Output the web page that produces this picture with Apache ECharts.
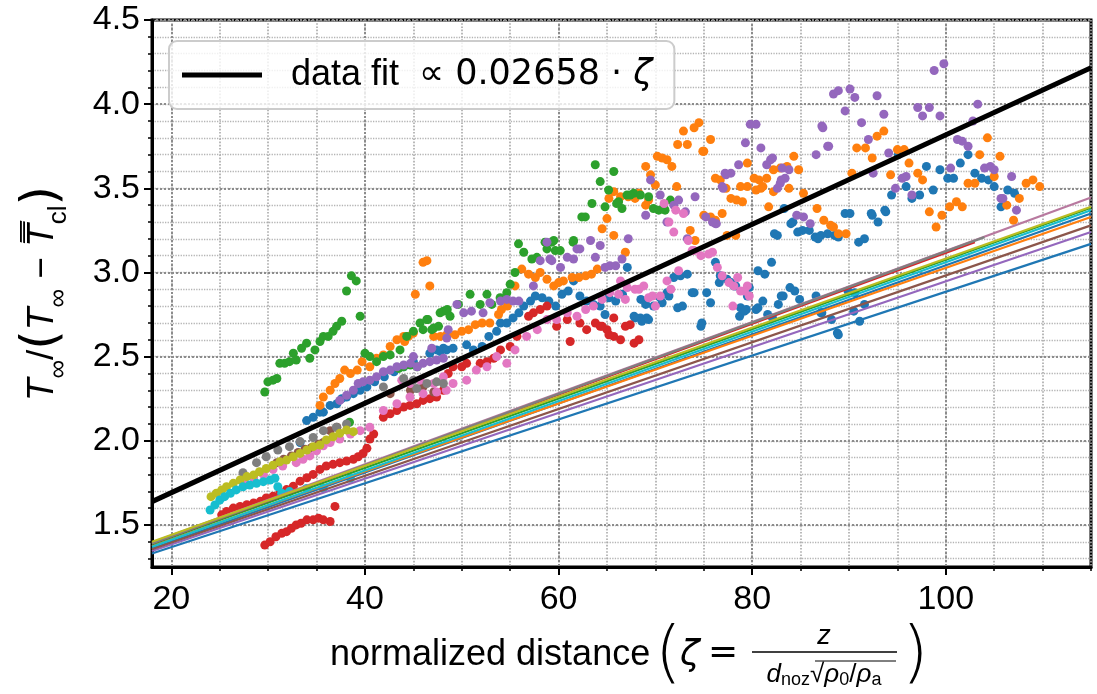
<!DOCTYPE html>
<html><head><meta charset="utf-8">
<script src="https://cdn.jsdelivr.net/npm/echarts@6/dist/echarts.min.js"></script>
<style>html,body{margin:0;padding:0;background:#fff}#c{width:1097px;height:694px}</style>
</head><body><div id="c"></div>
<script>
// ---------- axis ranges & tick labels ----------
const xRange = [18, 115];
const yRange = [1.25, 4.5];
const xTickLabels = [20, 40, 60, 80, 100];
const yTickLabels = [1.5, 2.0, 2.5, 3.0, 3.5, 4.0, 4.5];

// ---------- data fit ----------
const fitSlope = 0.02658;
const fitIntercept = 1.16;

// ---------- per-dataset model lines (value at zeta=18, value at end, end zeta) ----------
const lineColors = ['#1f77b4','#ff7f0e','#2ca02c','#d62728','#9467bd','#8c564b','#b8799f','#7f7f7f','#bcbd22','#17becf','#1f77b4'];
const lineStartVal = [1.360, 1.375, 1.385, 1.390, 1.345, 1.355, 1.395, 1.390, 1.400, 1.370, 1.330];
const lineEndVal   = [3.350, 3.330, 3.385, 3.180, 3.240, 3.280, 3.445, 3.210, 3.390, 3.370, 3.170];
const lineEndZeta  = [115, 115, 115, 103, 115, 115, 115, 104, 115, 115, 115];

// ---------- scatter data ----------
const blue = [[33.3,1.99],[33.97,2.12],[34.65,2.14],[35.35,2.17],[35.7,2.17],[36.4,2.21],[37.1,2.22],[37.6,2.25],[38.1,2.26],[38.8,2.28],[39.5,2.30],[40.2,2.32],[41.0,2.35],[42.0,2.38],[43.0,2.41],[44.0,2.44],[45.0,2.47],[46.7,2.52],[47.4,2.54],[48.1,2.55],
[47.8,2.53],[48.45,2.54],[49.1,2.55],[50.5,2.57],[51.2,2.54],[52.1,2.56],[52.8,2.62],[53.6,2.65],[54.0,2.70],[54.65,2.70],[55.3,2.73],[55.9,2.76],[56.4,2.80],[57.1,2.83],[57.6,2.86],[58.3,2.85],[59.0,2.83],[59.7,2.80],[60.35,2.87],[61.0,2.89],[61.55,2.95],[62.2,2.86],[62.9,2.83],[63.6,2.81],[64.3,2.80],[64.8,2.75],[65.2,2.85],[65.9,2.83],[66.6,2.87],[67.1,3.03],[67.8,2.74],[68.45,2.73],[69.1,2.73],[69.8,2.80],[70.5,2.85],[71.2,2.88],[71.9,2.97],[72.6,2.98],[73.3,2.99],[74.0,2.88],[74.8,2.70],[75.3,2.88],[76.2,3.06],[76.7,2.98],[77.4,2.96],[78.1,2.92],[78.8,2.79],[79.5,2.86],
[68.5,2.84],[69.0,2.81],[67.9,2.73],[68.6,2.71],[69.3,2.72],[70.7,2.82],[71.4,2.86],[73.8,2.88],[72.3,2.79],[72.8,2.80],[74.7,2.68],[75.7,2.82],[76.6,2.94],[78.3,2.92],[79.4,2.78],[79.7,2.91],[80.6,3.01],[81.3,2.99],[80.6,2.79],[82.0,3.06],[82.3,3.23],[82.7,2.81],[83.2,2.86],[83.9,2.91],[84.9,2.84],[84.2,3.30],[85.2,3.25],[85.9,3.25],[86.5,3.21],[87.1,3.22],[87.8,3.23],[88.5,3.22],[87.1,2.76],[88.2,2.72],[88.8,2.64],[89.6,3.35],[90.1,3.35],[90.6,2.88],[91.1,2.71],[91.0,3.18],[91.6,3.20],[91.6,2.81],[92.3,3.35],[93.0,3.30],[93.7,3.37],[94.4,3.46],
[83.3,3.38],[84.0,3.29],[84.7,3.24],[82.6,3.22],[86.8,3.20],[88.9,3.21],[92.4,3.34],[93.8,3.36],[95.9,3.51],[96.5,3.44],[97.3,3.46],[98.0,3.63],[98.7,3.49],[99.4,3.61],[100.2,3.56],[100.8,3.56],[101.5,3.65],[102.3,3.70],[103.0,3.59],[103.7,3.56],[104.4,3.55],[105.0,3.51],[105.7,3.39],[106.4,3.49],[107.1,3.47],[95.1,3.70],
[77.8,2.94],[78.7,2.74],[79.2,2.77],[80.4,2.78],[81.1,2.83],[81.6,2.75],[82.1,2.73],[83.0,2.86],[84.4,2.89],[86.6,2.86],[87.2,2.76],[88.9,2.63],[89.9,2.89],[90.5,2.77]];

const orange = [[35.35,2.21],[35.7,2.26],[36.4,2.30],[36.9,2.34],[37.4,2.37],[37.9,2.42],[38.5,2.40],[39.2,2.42],[39.7,2.47],[40.5,2.44],[41.2,2.49],[41.9,2.51],[42.6,2.56],[43.3,2.60],[44.0,2.62],[44.5,2.62],[45.0,2.64],[45.2,2.87],[46.0,3.06],[46.4,3.07],[46.7,2.92],
[44.1,2.59],[47.1,2.62],[47.8,2.62],[48.45,2.63],[49.3,2.63],[50.0,2.65],[50.7,2.66],[51.4,2.69],[52.1,2.70],[52.9,2.70],[53.8,2.75],[54.1,2.78],[54.7,2.80],[55.5,2.92],[56.2,3.02],[56.9,2.99],[57.6,2.97],[58.1,3.00],[58.8,2.96],[59.5,2.92],[60.0,2.94],[60.5,2.95],[61.4,2.97],[62.1,2.97],[62.8,2.98],[63.4,2.99],[64.0,3.02],
[64.5,3.26],[65.0,3.32],[65.7,3.22],[66.9,3.12],[65.7,3.48],[65.2,3.44],[68.3,3.47],[66.4,3.45],[67.2,3.45],[67.9,3.44],[69.0,3.40],[69.3,3.43],
[74.5,3.89],[74.0,3.86],[72.9,3.84],[75.7,3.79],[72.3,3.76],[73.3,3.76],[75.0,3.72],[70.2,3.69],[70.7,3.68],[71.2,3.67],[69.0,3.63],[71.7,3.63],[69.5,3.58],[70.0,3.52],[72.2,3.51],[76.2,3.56],[76.7,3.55],[78.8,3.51],[79.5,3.51],[80.2,3.56],[80.7,3.55],[81.5,3.56],[82.2,3.61],[82.9,3.62],[83.6,3.63],[84.3,3.69],[84.8,3.61],[77.8,3.44],[78.4,3.43],[79.0,3.42],[80.9,3.50],[82.2,3.48],[83.8,3.50],[85.3,3.47],[81.7,3.39],[86.7,3.38],[87.4,3.31],[88.1,3.28],[75.0,3.34],[75.7,3.33],[76.2,3.31],[76.9,3.35],[73.6,3.25],[74.1,3.19],
[74.9,3.72],[77.3,3.50],[79.5,3.65],[81.1,3.51],[80.4,3.49],[77.4,3.22],[78.3,3.22],[88.4,3.27],[88.9,3.23],[89.7,3.23],[90.3,3.59],[90.8,3.74],[91.7,3.74],[92.4,3.68],[92.9,3.81],[93.6,3.84],[95.0,3.73],[95.7,3.73],[96.2,3.65],[94.3,3.58],[97.1,3.59],[97.6,3.55],[98.3,3.36],[99.0,3.27],[99.6,3.34],[100.4,3.39],[101.1,3.42],[101.7,3.39],[102.3,3.53],[103.0,3.53],[103.5,3.70],[104.3,3.80],[105.0,3.57],[105.6,3.69],[106.3,3.40],[107.0,3.31],[107.6,3.44],[108.3,3.53],[109.0,3.55],[109.7,3.51]];

const green = [[29.65,2.29],[29.97,2.35],[30.5,2.36],[30.9,2.37],[31.2,2.46],[31.7,2.46],[32.2,2.47],[32.6,2.52],[32.9,2.48],[33.45,2.55],[33.97,2.58],[34.3,2.49],[34.83,2.54],[35.35,2.59],[35.7,2.62],[36.2,2.62],[36.7,2.65],[37.07,2.68],[37.6,2.71],[38.1,2.89],[38.6,2.98],[39.1,2.95],[39.5,2.74],
[38.4,2.11],[40.0,2.52],[40.5,2.50],[41.2,2.47],[41.9,2.50],[42.6,2.51],[43.5,2.43],[44.0,2.44],[44.7,2.45],[45.4,2.44],[46.0,2.66],[46.5,2.72],[47.1,2.67],[47.6,2.68],[48.1,2.77],[48.5,2.78],
[43.62,2.54],[44.31,2.62],[45.0,2.65],[45.69,2.70],[46.38,2.72],[46.9,2.66],[47.76,2.76],[48.45,2.77],[48.79,2.74],[49.65,2.81],[50.86,2.87],[51.9,2.81],[52.6,2.87],[53.1,2.81],[53.96,2.85],[54.65,2.88],[55.0,2.93],[55.5,3.00],[55.86,3.17],[56.4,3.12],[57.24,3.08],[57.76,3.09],[58.6,3.18],[59.5,3.19],[59.66,3.13],[60.17,3.13],[61.55,3.19],[62.4,3.33],[62.76,3.33],[63.45,3.41],[63.79,3.64],[64.3,3.54],[64.8,3.39],[65.17,3.49],[65.7,3.60],[66.2,3.42],[66.55,3.38],[67.07,3.46],[67.76,3.47],[68.45,3.46],[69.3,3.45],[69.8,3.38],[70.35,3.37],[71.0,3.37],[71.55,3.43],
[59.3,3.18],[58.8,3.14],[61.5,3.18],[66.0,3.41],[67.4,3.46],[70.9,3.38]];

const red = [[29.65,1.38],[30.2,1.40],[30.8,1.43],[31.4,1.45],[31.9,1.46],[32.4,1.48],[32.9,1.50],[33.4,1.51],[34.0,1.53],[34.65,1.53],[35.2,1.54],[35.7,1.53],[36.4,1.52],[36.9,1.61],
[25.2,1.56],[25.7,1.58],[26.4,1.60],[27.1,1.61],[27.8,1.62],[28.5,1.63],[29.2,1.64],[29.8,1.66],[30.5,1.67],[31.2,1.69],[31.9,1.71],[32.6,1.73],[33.3,1.76],[34.0,1.78],[34.65,1.80],[35.35,1.83],[36.0,1.85],[36.7,1.86],[37.4,1.87],[38.1,1.88],[38.8,1.89],[39.3,1.905],[39.8,1.925],[40.2,1.955],[40.5,2.01],[40.9,2.04],
[41.9,2.14],[42.6,2.16],[43.3,2.18],[44.0,2.20],[44.65,2.21],[45.35,2.22],[46.0,2.24],[46.7,2.25],[47.4,2.26],[48.1,2.30],[48.6,2.40],
[49.1,2.44],[50.0,2.44],[50.5,2.46],[51.9,2.46],[52.6,2.47],[53.3,2.49],[54.0,2.54],[55.0,2.56],[55.7,2.62],[56.9,2.74],[57.4,2.76],[58.1,2.78],[58.8,2.80],[59.8,2.68],[60.9,2.72],[61.2,2.59],[62.2,2.70],[62.9,2.66],[63.8,2.70],[64.3,2.68],[65.0,2.66],[65.7,2.62],[66.4,2.60],[67.4,2.69],[67.8,2.58],[68.3,2.60],
[65.7,2.73],[66.9,2.68],[64.5,2.68],[65.2,2.63]];

const purple = [[37.4,2.24],[38.1,2.27],[38.8,2.30],[39.3,2.34],[39.8,2.35],[40.5,2.36],[41.2,2.38],[41.9,2.41],[42.6,2.42],[43.3,2.44],[44.0,2.45],[44.7,2.46],[45.4,2.44],[46.0,2.46],[46.7,2.47],[47.4,2.48],[48.1,2.49],[48.6,2.66],
[45.0,2.50],[46.9,2.55],[48.45,2.61],[49.5,2.81],[50.2,2.76],[51.0,2.77],[52.2,2.76],[52.9,2.82],[54.0,2.83],[54.65,2.84],[55.3,2.83],[55.9,2.83],[57.4,2.92],[58.1,3.07],[58.8,3.18],[59.3,3.07],[60.2,3.03],[60.9,3.09],[61.55,3.08],[62.2,3.14],[63.3,3.19],[64.3,3.16],[63.8,3.09],[64.8,3.03],[65.3,3.04],[65.9,3.04],[66.55,3.08],[67.2,3.20],
[79.8,3.88],[80.4,3.88],[79.3,3.77],[80.9,3.74],[87.2,3.87],[87.8,3.75],[86.6,3.70],[88.4,4.06],[88.9,4.08],[78.6,3.64],[81.9,3.67],[81.5,3.64],[83.1,3.62],[83.8,3.61],[83.4,3.56],[82.9,3.53],[82.6,3.50],[84.6,3.34],[85.3,3.33],[86.0,3.29],[77.2,3.59],[77.8,3.59],[76.9,3.51],[74.1,3.45],[71.2,3.30],[70.5,3.46],[69.5,3.55],[69.0,3.34],[61.9,3.14],[59.1,3.08],[76.2,3.29],[75.2,3.33],[73.3,3.20],[71.9,3.40],[72.4,3.43],[73.1,3.36],
[98.8,4.20],[99.8,4.24],[90.1,4.09],[90.6,4.04],[92.9,4.05],[89.6,3.96],[93.6,3.94],[91.3,3.89],[87.3,3.86],[97.1,3.98],[98.3,3.98],[97.6,3.93],[99.4,3.93],[103.3,4.00],[102.8,3.90],[92.0,3.79],[87.9,3.75],[94.1,3.71],[101.2,3.79],[101.7,3.78],[102.3,3.75],[82.1,3.68],[83.0,3.55],[77.3,3.58],[77.0,3.50],[76.3,3.29],[75.9,3.30],[92.5,3.59],[94.8,3.50],[95.5,3.56],[95.9,3.57],[100.5,3.62],[96.5,3.46],[104.0,3.62],[104.6,3.63],[105.0,3.61],[106.8,3.57],[105.7,3.44],[105.9,3.44],[107.3,3.37]];

const brown = [[30.9,1.87],[31.6,1.89],[32.4,1.91],[33.1,1.93],[33.8,1.95],[34.5,1.96],[35.2,1.98],[35.7,1.99],[36.4,2.06],[37.1,2.08],
[42.6,2.28],[44.7,2.30],[46.0,2.32],[47.1,2.29]];

const pink = [[27.5,1.76],[28.5,1.78],[29.5,1.80],[30.5,1.83],[31.5,1.85],
[32.9,1.87],[33.6,1.89],[34.3,1.91],[35.0,1.94],[35.7,1.97],[36.4,1.99],[37.4,2.01],[38.5,2.04],[39.5,2.06],[40.5,2.08],[41.9,2.18],[43.3,2.22],[44.65,2.26],[46.0,2.28],[47.4,2.29],[48.4,2.30],
[43.8,2.36],[44.7,2.34],[45.7,2.36],[47.1,2.34],[48.1,2.38],[49.1,2.34],[50.5,2.36],[51.5,2.42],[52.6,2.44],[53.6,2.50],[54.65,2.46],[55.5,2.54],[56.7,2.62],[57.8,2.66],[58.8,2.72],[59.8,2.72],[60.9,2.76],[61.9,2.74],[62.8,2.78],[63.6,2.80],[64.5,2.84],[65.3,2.88],[66.2,2.87],[67.1,2.91],[67.9,2.90],[68.8,2.92],[69.7,2.86],[70.5,2.86],[71.6,2.90],[71.9,3.24],[72.9,3.35],[73.4,3.19],[74.0,3.13],[74.7,3.10],[75.5,3.11],[76.4,3.03],[76.9,2.98],[77.6,2.94],[78.1,2.92],[78.8,2.89],
[66.4,2.95],[66.9,2.84],[68.3,2.90],[69.3,2.85],[70.0,2.80],[71.2,2.95],[72.4,3.01],[72.1,3.37],[70.9,3.41],[71.4,3.30],[73.8,3.13],[75.9,3.12],[78.0,2.80],[78.5,2.97],[79.5,2.92],[79.2,2.89],[79.7,2.86]];

const gray = [[27.4,1.81],[28.8,1.87],[29.8,1.905],[31.0,1.945],[32.2,1.965],[33.3,1.995],[34.65,2.02],[35.7,2.06],[37.05,2.08],[38.1,2.10],
[41.9,2.32],[45.35,2.31],[47.4,2.35],[44.0,2.37],[45.0,2.36],[46.4,2.34],[48.1,2.34]];

const olive = [[24.1,1.668],[24.65,1.688],[25.2,1.708],[25.7,1.727],[26.4,1.747],[27.1,1.767],[27.8,1.787],[28.5,1.797],[29.1,1.816],[29.8,1.835],[30.5,1.855],[31.2,1.875],[31.9,1.885],[32.6,1.905],[33.3,1.925],[34.0,1.945],[34.65,1.965],[35.35,1.975],[36.0,2.005],[36.7,2.024],[37.4,2.044],[38.1,2.064],[38.8,2.054]];

const cyan = [[24.0,1.589],[24.5,1.619],[25.0,1.648],[25.5,1.668],[26.1,1.688],[26.7,1.708],[27.4,1.727],[28.1,1.737],[28.8,1.747],[29.5,1.757],[30.2,1.767],[30.7,1.777],[31.0,1.727],[31.4,1.688],[32.2,1.698],[33.97,1.717],[35.7,1.717],[38.5,1.777]];

const scatterSets = [
  ['run A', blue, '#1f77b4'], ['run B', orange, '#ff7f0e'], ['run C', green, '#2ca02c'],
  ['run D', red, '#d62728'], ['run E', purple, '#9467bd'], ['run F', brown, '#8c564b'],
  ['run G', pink, '#e377c2'], ['run H', gray, '#7f7f7f'], ['run I', olive, '#bcbd22'],
  ['run J', cyan, '#17becf']
];

// ---------- build ----------
const FONT = '"Liberation Sans", Arial, sans-serif';
const MATH = '"DejaVu Sans", sans-serif';
const FIT_NAME = 'data fit';
const xMinor = []; for (let v = 20; v <= xRange[1]; v += 5) xMinor.push(v);
const yMinor = []; for (let v = 13; v <= 45; v++) yMinor.push(v / 10);

const series = [];
scatterSets.forEach(([name, data, color]) => {
  series.push({type:'scatter', name, data, symbolSize:9, itemStyle:{color, opacity:1}, z:2, silent:true});
});
lineColors.forEach((c, i) => {
  series.push({type:'line', name:'model ' + i, data:[[xRange[0], lineStartVal[i]], [lineEndZeta[i], lineEndVal[i]]],
    symbol:'none', lineStyle:{color:c, width:2.2}, color:c, z:3, silent:true});
});
series.push({type:'line', name:FIT_NAME, color:'#000',
  data:[xRange[0], xRange[1]].map(x => [x, fitSlope * x + fitIntercept]),
  symbol:'none', lineStyle:{color:'#000', width:5}, z:4, silent:true});

const grid = {left:152, top:20, width:939, height:547, show:true, borderColor:'#000', borderWidth:3, backgroundColor:'#fff', containLabel:false, outerBoundsMode:'none'};

const option = {
  animation:false,
  backgroundColor:'#fff',
  grid,
  xAxis:[
    {type:'value', min:xRange[0], max:xRange[1], position:'bottom',
     axisLine:{show:true, onZero:false, lineStyle:{color:'#000', width:3}},
     axisTick:{show:true, customValues:xTickLabels, length:8, lineStyle:{color:'#000', width:2}},
     axisLabel:{customValues:xTickLabels, fontSize:34, color:'#000', fontFamily:FONT, margin:16},
     splitLine:{show:true, lineStyle:{color:'#8c8c8c', type:'dotted', width:2}}, z:1},
    {type:'value', min:xRange[0], max:xRange[1], position:'bottom',
     axisLine:{show:false}, axisLabel:{show:false},
     axisTick:{show:true, customValues:xMinor, length:4, lineStyle:{color:'#000', width:1.5}},
     splitLine:{show:true, lineStyle:{color:'#a8a8a8', type:'dotted', width:1.6}}, z:0}
  ],
  yAxis:[
    {type:'value', min:yRange[0], max:yRange[1], position:'left',
     axisLine:{show:true, onZero:false, lineStyle:{color:'#000', width:3}},
     axisTick:{show:true, customValues:yTickLabels, length:8, lineStyle:{color:'#000', width:2}},
     axisLabel:{customValues:yTickLabels, fontSize:34, color:'#000', fontFamily:FONT, margin:12, formatter:v => Number(v).toFixed(1)},
     splitLine:{show:true, lineStyle:{color:'#8c8c8c', type:'dotted', width:2}},
     name:'{t|T}{s|∞}{n|/}{p|(}{t|T}{s|∞}{n| − }{t|T\u033F}{s|cl}{p|)}',
     nameLocation:'middle', nameRotate:90, nameGap:80,
     nameTextStyle:{color:'#000', rich:{
       t:{fontFamily:FONT, fontStyle:'italic', fontSize:37, color:'#000', verticalAlign:'middle'},
       s:{fontFamily:FONT, fontSize:26, color:'#000', verticalAlign:'bottom', lineHeight:26},
       n:{fontFamily:FONT, fontSize:37, color:'#000', verticalAlign:'middle'},
       p:{fontFamily:MATH, fontSize:50, lineHeight:58, color:'#000', verticalAlign:'middle'}
     }}, z:1},
    {type:'value', min:yRange[0], max:yRange[1], position:'left',
     axisLine:{show:false}, axisLabel:{show:false},
     axisTick:{show:true, customValues:yMinor, length:4, lineStyle:{color:'#000', width:1.5}},
     splitLine:{show:true, lineStyle:{color:'#b4b4b4', type:'dotted', width:1.3}}, z:0}
  ],
  legend:{
    show:true, left:169, top:41, orient:'horizontal',
    data:[{name:FIT_NAME, icon:'rect'}],
    itemWidth:80, itemHeight:5,
    padding:[16, 22, 16, 13],
    backgroundColor:'rgba(255,255,255,0.8)', borderColor:'#cccccc', borderWidth:2, borderRadius:8,
    formatter:() => '{a|data fit}{b|∝ ' + fitSlope + ' · }{c|ζ}',
    textStyle:{rich:{
      a:{fontFamily:FONT, fontSize:36, color:'#000', padding:[0,20,0,24], lineHeight:38},
      b:{fontFamily:MATH, fontSize:35, color:'#000', lineHeight:38},
      c:{fontFamily:MATH, fontSize:35, fontStyle:'italic', color:'#000', lineHeight:38}
    }},
    selectedMode:false
  },
  graphic:[
    {type:'text', x:330, y:655, silent:true, style:{text:'normalized distance', font:'36px "Liberation Sans"', fill:'#000', align:'left', verticalAlign:'middle'}},
    {type:'text', x:655, y:657, silent:true, style:{text:'(', font:'300 68px "DejaVu Sans"', fill:'#000', align:'left', verticalAlign:'middle'}},
    {type:'text', x:680, y:656, silent:true, style:{text:'ζ', font:'italic 36px "DejaVu Sans"', fill:'#000', align:'left', verticalAlign:'middle'}},
    {type:'text', x:708, y:654, silent:true, style:{text:'=', font:'36px "DejaVu Sans"', fill:'#000', align:'left', verticalAlign:'middle'}},
    {type:'line', silent:true, shape:{x1:752, y1:652, x2:897, y2:652}, style:{stroke:'#000', lineWidth:1.5}},
    {type:'text', x:824, y:636, silent:true, style:{text:'z', font:'italic 27px "Liberation Sans"', fill:'#000', align:'center', verticalAlign:'middle'}},
    {type:'text', x:824, y:675, silent:true, style:{
      text:'{i|d}{s|noz}{n|√}{i|ρ}{s|0}{n|/}{i|ρ}{s|a}', align:'center', verticalAlign:'middle',
      rich:{
        i:{fontFamily:FONT, fontStyle:'italic', fontSize:26, fill:'#000', verticalAlign:'middle', lineHeight:28},
        s:{fontFamily:FONT, fontSize:18, fill:'#000', verticalAlign:'bottom', lineHeight:20},
        n:{fontFamily:FONT, fontSize:26, fill:'#000', verticalAlign:'middle', lineHeight:28}
      }}},
    {type:'line', silent:true, shape:{x1:815, y1:661, x2:896, y2:661}, style:{stroke:'#000', lineWidth:1}},
    {type:'text', x:902, y:657, silent:true, style:{text:')', font:'300 68px "DejaVu Sans"', fill:'#000', align:'left', verticalAlign:'middle'}}
  ],
  series
};
option.series.forEach(s => { s.xAxisIndex = 0; s.yAxisIndex = 0; });

const chart = echarts.init(document.getElementById('c'), null, {renderer:'canvas'});
chart.setOption(option);
</script>
</body></html>
